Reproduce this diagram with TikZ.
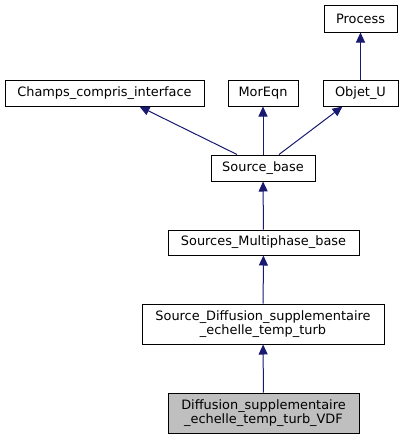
\documentclass[tikz,border=0pt]{standalone}
\usepackage{fontspec}
\setmainfont{DejaVu Sans}
\usetikzlibrary{arrows.meta,calc}
\definecolor{edge_blue}{RGB}{25, 25, 112}
\definecolor{cls_gray}{RGB}{191, 191, 191}
\tikzstyle{cls}=[rectangle,fill=white,draw=black,line width=1pt,
  inner sep=0pt,minimum height=26pt,align=center,
  font=\fontsize{12.9}{14.5}\selectfont]
\tikzstyle{inh}=[draw=edge_blue,line width=1pt,
  {Triangle[length=10pt,width=9pt]}-]
\begin{document}
\begin{tikzpicture}[x=1pt,y=-1pt]
    \useasboundingbox (0,0) rectangle (403,440);
    \node [style=cls,minimum width=73pt,minimum height=27pt] (process) at (360.5, 18.5) {Process};
    \node [style=cls,minimum width=199pt] (champs) at (104.5, 93) {Champs\_compris\_interface};
    \node [style=cls,minimum width=70pt] (moreqn) at (263, 93) {MorEqn};
    \node [style=cls,minimum width=75pt] (objet) at (360.5, 93) {Objet\_U};
    \node [style=cls,minimum width=104pt] (sb) at (263, 168) {Source\_base};
    \node [style=cls,minimum width=191pt,minimum height=25pt] (smb) at (263.5, 242.5) {Sources\_Multiphase\_base};
    \node [style=cls,minimum width=242pt,minimum height=40pt] (sdiff) at (263, 324) {Source\_Diffusion\_supplementaire\\\_echelle\_temp\_turb};
    \node [style=cls,fill=cls_gray,minimum width=191pt,minimum height=40pt] (vdf) at (263.5, 413) {Diffusion\_supplementaire\\\_echelle\_temp\_turb\_VDF};
    \draw [style=inh] (process) to (objet);
    \draw [style=inh] ([xshift=35pt]champs.south) to ([xshift=-26pt]sb.north);
    \draw [style=inh] (moreqn) to (sb);
    \draw [style=inh] ([xshift=-18pt]objet.south) to ([xshift=16pt]sb.north);
    \draw [style=inh] (sb) to (smb);
    \draw [style=inh] (smb) to (sdiff);
    \draw [style=inh] (sdiff) to (vdf);
    \end{tikzpicture}
\end{document}
